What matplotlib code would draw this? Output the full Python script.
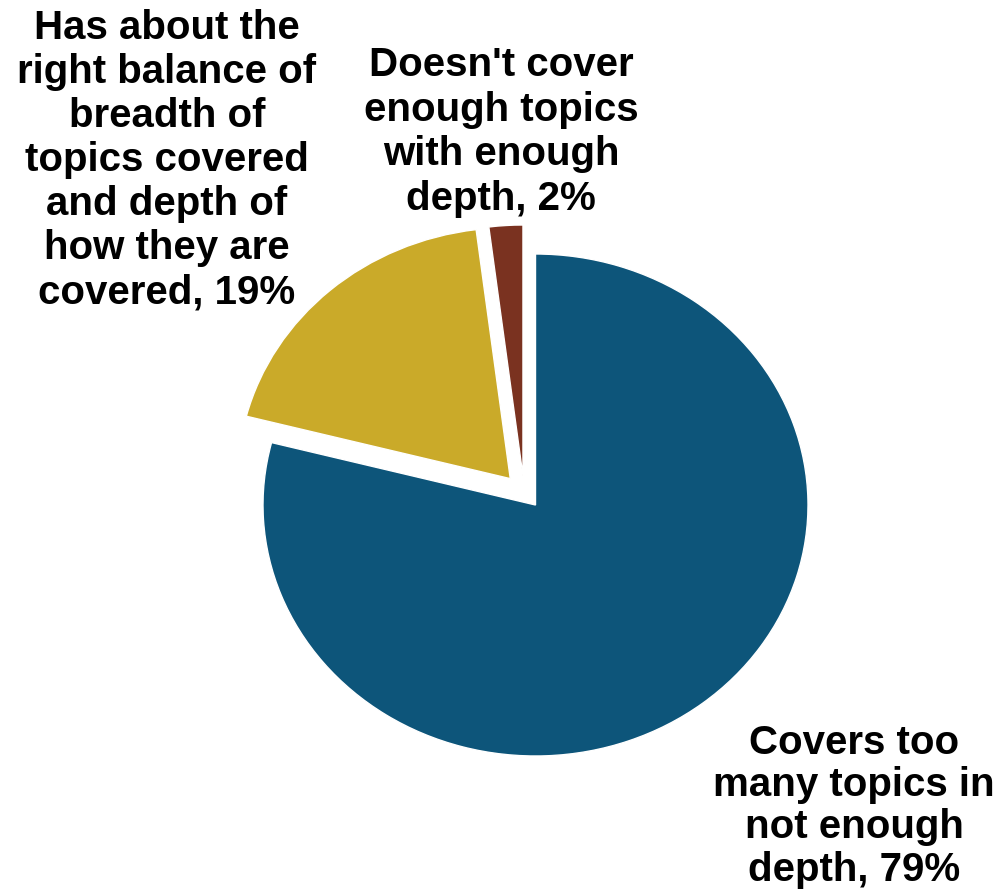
import matplotlib
matplotlib.use("Agg")
import matplotlib.pyplot as plt

# slice data (clockwise from 12 o'clock)
labels = [
    "Covers too\nmany topics in\nnot enough\ndepth, 79%",
    "Has about the\nright balance of\nbreadth of\ntopics covered\nand depth of\nhow they are\ncovered, 19%",
    "Doesn't cover\nenough topics\nwith enough\ndepth, 2%",
]
shares = [79, 19, 2]
colors = ["#0D557A", "#CAAA29", "#7A3220"]
explode = [0.0, 0.14, 0.116]

W, H = 1007, 891
CX, CY = 535.5, 505.0      # pie centre in pixels (from top-left)
RX, RY = 272.5, 251.0      # reference pie is a bit wider than tall

plt.rcParams["font.family"] = ["Liberation Sans", "DejaVu Sans"]

fig = plt.figure(figsize=(W / 100, H / 100), dpi=100)
ax = fig.add_axes([0, 0, 1, 1])

wedges, _ = ax.pie(shares, colors=colors, explode=explode, startangle=90,
                   counterclock=False, radius=1.0,
                   wedgeprops=dict(edgecolor="white", linewidth=1))
# the small slice is pulled out a little further to the left in the original
wedges[2].set_center((-0.046, 0.1155))

ax.set_aspect("auto")
ax.set_xlim(-CX / RX, (W - CX) / RX)
ax.set_ylim((CY - H) / RY, CY / RY)
ax.axis("off")

# label boxes: centre x and top y in pixels, line spacing
label_pos = [(854, 724, 1.14), (167, 9, 1.2), (501, 46, 1.22)]
for txt, (x, y, ls) in zip(labels, label_pos):
    fig.text(x / W, 1 - y / H, txt, ha="center", va="top",
             multialignment="center", fontsize=29, fontweight="bold",
             linespacing=ls, color="black")

fig.savefig("out.png", dpi=100)
